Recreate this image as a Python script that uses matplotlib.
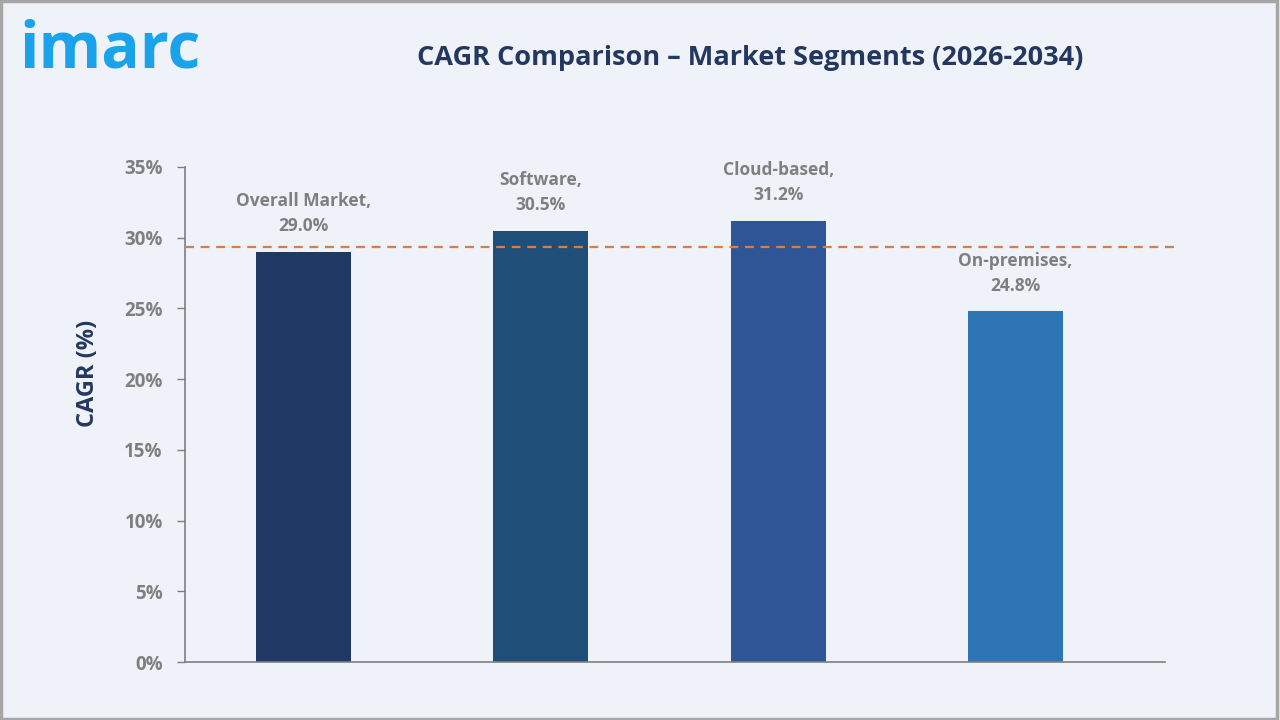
import matplotlib
matplotlib.use("Agg")
import matplotlib.pyplot as plt
from matplotlib.patches import Rectangle

categories = ["Overall Market", "Software", "Cloud-based", "On-premises"]
cagr = [29.0, 30.5, 31.2, 24.8]
reference_line = 29.35
bar_colors = ["#1F3864", "#1F4E79", "#2F5597", "#2E75B6"]
yticks = [0, 5, 10, 15, 20, 25, 30, 35]
ytick_labels = [f"{v}%" for v in yticks]

bg = "#EFF3F9"
gray = "#7F7F7F"
navy = "#24385F"

plt.rcParams['font.family'] = ['Open Sans', 'DejaVu Sans']

fig = plt.figure(figsize=(12.8, 7.2), dpi=100, facecolor=bg)
ax = fig.add_axes([185/1280, 1-662/720, 980/1280, (662-167)/720])
ax.set_facecolor(bg)

x = list(range(len(categories)))
ax.bar(x, cagr, width=0.4, color=bar_colors, zorder=2)
ax.set_xlim(-0.5, 3.63)
ax.set_ylim(0, 35)

ax.axhline(reference_line, xmin=0, xmax=1.011, color="#E07B39", lw=1.6,
           linestyle=(0, (4, 3)), clip_on=False, zorder=3)

for xi, cat, val in zip(x, categories, cagr):
    ax.annotate(f"{cat},\n{val:.1f}%", (xi, val), xytext=(0, 12),
                textcoords="offset points", ha="center", va="bottom",
                fontsize=12.5, fontweight="bold", color=gray, linespacing=1.5)

ax.set_yticks(yticks)
ax.set_yticklabels(ytick_labels)
ax.set_xticks([])
ax.tick_params(axis="y", length=6, width=1, color=gray, labelcolor=gray,
               labelsize=13.5, pad=10)
for lbl in ax.get_yticklabels():
    lbl.set_fontweight("bold")
for s in ["top", "right"]:
    ax.spines[s].set_visible(False)
for s in ["left", "bottom"]:
    ax.spines[s].set_color(gray)
    ax.spines[s].set_linewidth(1.2)

fig.text(88/1280, 1-373/720, "CAGR (%)", rotation=90, ha="center", va="center",
         fontsize=17, fontweight="bold", color=navy)

fig.text(750/1280, 1-58/720, "CAGR Comparison \u2013 Market Segments (2026-2034)",
         ha="center", va="center", fontsize=19.5, fontweight="bold", color=navy)

fig.text(19/1280, 1-51/720, "imarc", ha="left", va="center",
         fontsize=46, fontweight="bold", color="#1AA3EA")

fig.patches.append(Rectangle((0.001, 0.002), 0.997, 0.996, transform=fig.transFigure,
                             fill=False, edgecolor="#A6A6A6", lw=2.5))

fig.savefig("out.png", dpi=100, facecolor=bg)
